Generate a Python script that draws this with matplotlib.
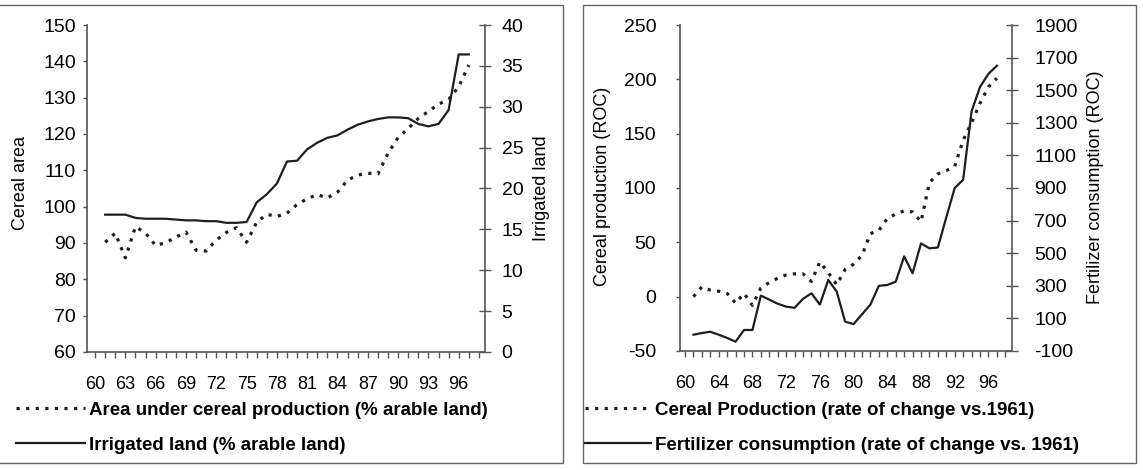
import matplotlib.pyplot as plt
from matplotlib.patches import Rectangle

plt.rcParams['font.family'] = ['Liberation Sans', 'DejaVu Sans']

# data, years 1961-1997
years = list(range(61, 98))

cereal_area = [90.2, 92.7, 85.9, 94.5, 92.7, 89.3, 90.1, 91.6, 93.0, 88.0,
               87.8, 90.8, 92.9, 94.2, 90.2, 95.7, 97.9, 97.3, 98.2, 100.6,
               102.2, 103.3, 102.4, 104.0, 107.3, 108.7, 109.2, 109.0, 114.7, 119.0,
               121.5, 124.3, 126.2, 128.2, 129.5, 133.0, 139.0]
irrigated = [16.8, 16.8, 16.8, 16.4, 16.3, 16.3, 16.3, 16.2, 16.1, 16.1,
             16.0, 16.0, 15.8, 15.8, 15.9, 18.3, 19.3, 20.6, 23.3, 23.4,
             24.8, 25.6, 26.2, 26.5, 27.2, 27.8, 28.2, 28.5, 28.7, 28.7,
             28.6, 27.9, 27.6, 27.9, 29.6, 36.4, 36.4]

cereal_prod = [0, 9, 6, 5, 3, -6, 3, -8, 8, 13,
               17, 20, 21, 21, 14, 32, 22, 11, 25, 30,
               38, 58, 61, 72, 76, 79, 78, 69, 105, 113,
               116, 120, 144, 160, 178, 193, 201]
fertilizer = [0, 10, 18, 0, -20, -43, 29, 29, 240, 215,
              190, 172, 165, 220, 254, 185, 336, 264, 80, 65,
              125, 185, 300, 305, 325, 480, 377, 560, 530, 535,
              720, 900, 950, 1370, 1520, 1600, 1650]

left_ticks = list(range(60, 97, 3))
right_ticks = list(range(60, 97, 4))

ink = '#1e1e1e'
axc = '#555555'
dots = (0, (1, 2))
ysize = 14
xsize = 13
lsize = 13

fig = plt.figure(figsize=(11.43, 4.70), dpi=100)

# panel frames
fig.patches.append(Rectangle((-0.01, 0.015), 0.503, 0.975, transform=fig.transFigure,
                             fill=False, ec='#666666', lw=1))
fig.patches.append(Rectangle((0.510, 0.015), 0.484, 0.975, transform=fig.transFigure,
                             fill=False, ec='#666666', lw=1))


def style(ax, axr, xt, lpad, rpad):
    for s in ['top', 'right']:
        ax.spines[s].set_visible(False)
    for s in ['top', 'left', 'bottom']:
        axr.spines[s].set_visible(False)
    for a in (ax, axr):
        for s in a.spines.values():
            s.set_color(axc)
            s.set_linewidth(1.2)
    ax.set_xticks(xt)
    ax.set_xticks(range(60, 99), minor=True)
    ax.tick_params(axis='x', which='both', direction='out', length=4, width=1,
                   color=axc, pad=13, labelsize=xsize)
    ax.tick_params(axis='y', direction='out', length=3, width=1, color=axc,
                   pad=lpad, labelsize=ysize)
    axr.tick_params(axis='y', direction='inout', length=8, width=1, color=axc,
                    pad=rpad, labelsize=ysize)


# left panel
ax1 = fig.add_axes([0.0761, 0.2511, 0.3482, 0.6957])
ax1b = ax1.twinx()
l1, = ax1.plot(years, cereal_area, color=ink, lw=2.3, ls=dots)
l2, = ax1b.plot(years, irrigated, color=ink, lw=1.6)
ax1.set_xlim(59.2, 98.6)
ax1.set_ylim(60, 150)
ax1b.set_ylim(0, 40)
ax1.set_yticks(range(60, 151, 10))
ax1b.set_yticks(range(0, 41, 5))
style(ax1, ax1b, left_ticks, 5, 8)
ax1.text(-0.168, 0.517, 'Cereal area', transform=ax1.transAxes, rotation=90,
         ha='center', va='center', fontsize=lsize)
ax1.text(1.143, 0.50, 'Irrigated land', transform=ax1.transAxes, rotation=90,
         ha='center', va='center', fontsize=lsize)

# right panel
ax2 = fig.add_axes([0.5949, 0.2532, 0.2905, 0.6936])
ax2b = ax2.twinx()
r1, = ax2.plot(years, cereal_prod, color=ink, lw=2.3, ls=dots)
r2, = ax2b.plot(years, fertilizer, color=ink, lw=1.6)
ax2.set_xlim(59.4, 98.8)
ax2.set_ylim(-50, 250)
ax2b.set_ylim(-100, 1900)
ax2.set_yticks(range(-50, 251, 50))
ax2b.set_yticks(range(-100, 1901, 200))
ax2.set_yticklabels([str(v) for v in range(-50, 251, 50)])
ax2b.set_yticklabels([str(v) for v in range(-100, 1901, 200)])
style(ax2, ax2b, right_ticks, 14, 12)
ax2.text(-0.232, 0.506, 'Cereal production (ROC)', transform=ax2.transAxes,
         rotation=90, ha='center', va='center', fontsize=lsize)
ax2.text(1.25, 0.503, 'Fertilizer consumption (ROC)', transform=ax2.transAxes,
         rotation=90, ha='center', va='center', fontsize=lsize)

# legends
lp = {'weight': 'bold', 'size': 13.5}
fig.legend([l1, l2], ['Area under cereal production (% arable land)',
                      'Irrigated land (% arable land)'],
           loc='upper left', bbox_to_anchor=(0.014, 0.145), frameon=False,
           prop=lp, handlelength=3.7, handletextpad=0.2, labelspacing=0.95,
           borderpad=0, borderaxespad=0)
fig.legend([r1, r2], ['Cereal Production (rate of change vs.1961)',
                      'Fertilizer consumption (rate of change vs. 1961)'],
           loc='upper left', bbox_to_anchor=(0.512, 0.145), frameon=False,
           prop=lp, handlelength=3.5, handletextpad=0.2, labelspacing=0.95,
           borderpad=0, borderaxespad=0)

fig.savefig('out.png', dpi=100)
